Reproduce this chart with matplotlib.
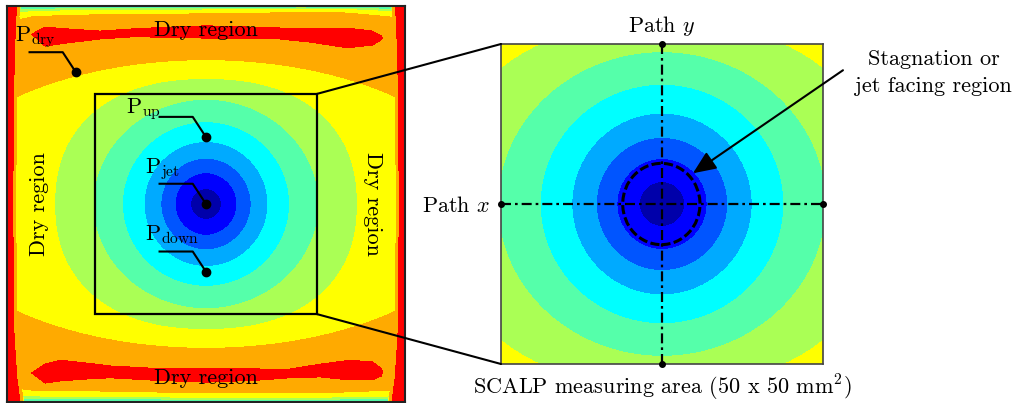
import numpy as np
import matplotlib.pyplot as plt
from matplotlib.patches import Rectangle, Ellipse, ConnectionPatch

plt.rcParams['font.family'] = 'serif'
plt.rcParams['font.serif'] = ['cmr10']
plt.rcParams['mathtext.fontset'] = 'cm'
plt.rcParams['axes.unicode_minus'] = False

# filled band colours, from jet centre outwards
band_colors = ['#0000AA', '#0000FF', '#0055FF', '#00AAFF', '#00FFFF',
               '#55FFAA', '#AAFF55', '#FFFF00', '#FFAA00', '#FF0000']

# contour boundaries around the jet (semi-axes in mm, superellipse exponent)
ring_a = [3.5, 7.0, 10.2, 14.0, 18.9, 25.5, 34.2, 64.0]
ring_b = [3.5, 7.1, 10.4, 14.2, 18.7, 23.8, 28.5, 32.8]
ring_p = [2.0, 2.0, 2.0, 2.0, 2.0, 2.0, 2.3, 2.0]

# dry (red) streaks along the top and bottom walls, mm
top_blob_x = [-39.4, -36.4, -31.4, -24.0, -16.5, -8.1, 0.0, 10.0, 16.7, 23.5, 31.9, 37.6, 39.6, 40.0]
top_blob_hi = [38.6, 40.2, 39.8, 39.3, 39.8, 40.2, 40.5, 40.2, 40.0, 40.0, 40.0, 39.3, 38.2, 37.7]
top_blob_lo = [38.6, 35.9, 36.6, 37.5, 38.0, 37.9, 37.7, 37.7, 37.5, 36.8, 35.5, 36.1, 37.3, 37.7]
bot_blob_x = [-39.4, -36.4, -33.0, -27.4, -21.7, -12.7, 0.0, 12.2, 19.0, 25.8, 32.6, 37.6, 39.6, 40.0]
bot_blob_hi = [-38.4, -36.4, -35.5, -36.1, -36.8, -37.3, -37.3, -37.5, -37.5, -36.4, -35.5, -35.9, -37.3, -38.2]
bot_blob_lo = [-38.4, -40.7, -40.2, -39.8, -39.5, -40.0, -40.5, -40.0, -39.5, -39.3, -40.0, -40.0, -39.1, -38.2]

# thickness of the thin layers next to the top/bottom walls, mm
wall_x = [-44.8, -43.2, -39.1, -24.0, 0.0, 21.3, 31.9, 41.6, 44.8]
wall_top = [4.0, 3.4, 2.4, 2.0, 1.8, 1.5, 1.6, 2.5, 4.0]
wall_bot = [3.6, 3.2, 2.7, 2.5, 2.1, 2.1, 2.3, 2.7, 3.6]
wall_frac = [0.0, 0.1, 0.3, 0.5, 1.0, 2.0]
wall_level = [3.6, 4.5, 5.5, 6.5, 7.5, 12.0]

# width of the red strips along the side walls, mm
side_y = [-45, -40, -30, 0, 30, 40, 45]
side_red = [3.0, 2.3, 1.6, 1.3, 1.6, 1.9, 2.2]
side_orange = 0.7

# measurement points and their labels
pt_names = [r'$\mathrm{P}_{\mathrm{dry}}$', r'$\mathrm{P}_{\mathrm{up}}$',
            r'$\mathrm{P}_{\mathrm{jet}}$', r'$\mathrm{P}_{\mathrm{down}}$']
pt_x = [-29.4, 0.0, 0.0, 0.0]
pt_y = [29.9, 15.2, 0.0, -15.4]
lab_dx = [-3.3, -7.7, -3.3, -3.3]
lab_dy = [2.5, 0.8, 2.5, 2.5]

# build the level field on a fine grid
xs = np.linspace(-45, 45, 901)
X, Y = np.meshgrid(xs, xs)
w = 0.15
L = np.zeros_like(X)
for a, b, p in zip(ring_a, ring_b, ring_p):
    s = (np.abs(X / a) ** p + np.abs(Y / b) ** p) ** (1 / p)
    L += np.clip((s - 1) * min(a, b) / w + 0.5, 0, 1)

for bx, hi, lo in [(top_blob_x, top_blob_hi, top_blob_lo),
                   (bot_blob_x, bot_blob_hi, bot_blob_lo)]:
    yh = np.interp(X, bx, hi, left=-100, right=-100)
    yl = np.interp(X, bx, lo, left=100, right=100)
    L += np.clip(np.minimum(Y - yl, yh - Y) / w + 0.5, 0, 1)

lw_top = np.interp((45 - Y) / np.interp(X, wall_x, wall_top), wall_frac, wall_level)
lw_bot = np.interp((45 + Y) / np.interp(X, wall_x, wall_bot), wall_frac, wall_level)
L = np.minimum(L, np.minimum(lw_top, lw_bot))

ds = 45 - np.abs(X)
rw = np.interp(Y, side_y, side_red)
L_side = np.where(ds < rw, 9.4 - 0.9 * ds / rw,
                  np.where(ds < rw + side_orange, 8.5 - (ds - rw) / side_orange,
                           7.5 - (ds - rw - side_orange) * 20))
L = np.clip(np.maximum(L, L_side), 0, 9.4)

levels = np.arange(-0.5, 10, 1)

fig = plt.figure(figsize=(10.19, 4.03), dpi=100)
ax1 = fig.add_axes([7 / 1019, 1 / 403, 398 / 1019, 396 / 403])
ax2 = fig.add_axes([501 / 1019, 39 / 403, 322 / 1019, 320 / 403])

for ax, lim in [(ax1, 45), (ax2, 25)]:
    ax.contourf(X, Y, L, levels=levels, colors=band_colors)
    ax.set_xlim(-lim, lim)
    ax.set_ylim(-lim, lim)
    ax.set_xticks([])
    ax.set_yticks([])

for sp in ax1.spines.values():
    sp.set_linewidth(1.5)
    sp.set_color('#222222')
for sp in ax2.spines.values():
    sp.set_linewidth(1.2)
    sp.set_color('#444444')

# left panel: zoom box, labels, measurement points
ax1.add_patch(Rectangle((-25, -25), 50, 50, fill=False, lw=1.6, color='k', zorder=3))
fs = 16
ax1.text(0, 38.2, 'Dry region', ha='center', va='baseline', fontsize=fs)
ax1.text(0, -40.8, 'Dry region', ha='center', va='baseline', fontsize=fs)
ax1.text(-36.4, 0, 'Dry region', rotation=90, rotation_mode='anchor',
         ha='center', va='baseline', fontsize=fs)
ax1.text(36.4, 0, 'Dry region', rotation=-90, rotation_mode='anchor',
         ha='center', va='baseline', fontsize=fs)

for name, x, y, dx, dy in zip(pt_names, pt_x, pt_y, lab_dx, lab_dy):
    kx, ky = x - 3.0, y + 4.6
    ax1.plot([kx - 7.5, kx, x], [ky, ky, y], color='k', lw=1.5, zorder=4)
    ax1.plot(x, y, 'o', color='k', ms=6, zorder=5)
    ax1.text(kx - 7.5 + dx, ky + dy, name, ha='left', va='baseline', fontsize=fs)

# right panel: measuring paths and stagnation region
dashdot = (0, (4.5, 1.8, 1.2, 1.8))
ax2.plot([-25, 25], [0, 0], color='k', lw=1.6, ls=dashdot)
ax2.plot([0, 0], [-25, 25], color='k', lw=1.6, ls=dashdot)
ax2.plot([-25, 25, 0, 0], [0, 0, -25, 25], 'o', color='k', ms=4, clip_on=False, zorder=5)
ax2.add_patch(Ellipse((-0.1, 0), 12.0, 12.7, fill=False, lw=2.2, color='k',
                      ls=(0, (3, 1.1)), zorder=4))

ax2.text(0, 26.9, 'Path $y$', ha='center', va='baseline', fontsize=fs, clip_on=False)
ax2.text(-26.6, -1.25, 'Path $x$', ha='right', va='baseline', fontsize=fs, clip_on=False)
ax2.text(0, -29.7, 'SCALP measuring area (50 x 50 mm$^2$)', ha='center',
         va='baseline', fontsize=fs, clip_on=False)
ax2.text(42.2, 21.7, 'Stagnation or', ha='center', va='baseline', fontsize=fs, clip_on=False)
ax2.text(42.2, 17.5, 'jet facing region', ha='center', va='baseline', fontsize=fs, clip_on=False)
ax2.annotate('', xy=(4.8, 4.8), xytext=(28.1, 20.9), annotation_clip=False,
             arrowprops=dict(arrowstyle='-|>,head_length=0.7,head_width=0.3',
                             mutation_scale=20, lw=1.5, color='k', shrinkA=0, shrinkB=0))

# lines joining the zoom box to the right panel
for yy in (25, -25):
    con = ConnectionPatch(xyA=(25, yy), coordsA=ax1.transData,
                          xyB=(-25, yy), coordsB=ax2.transData, lw=1.5, color='k')
    fig.add_artist(con)

fig.savefig('out.png', dpi=100)
